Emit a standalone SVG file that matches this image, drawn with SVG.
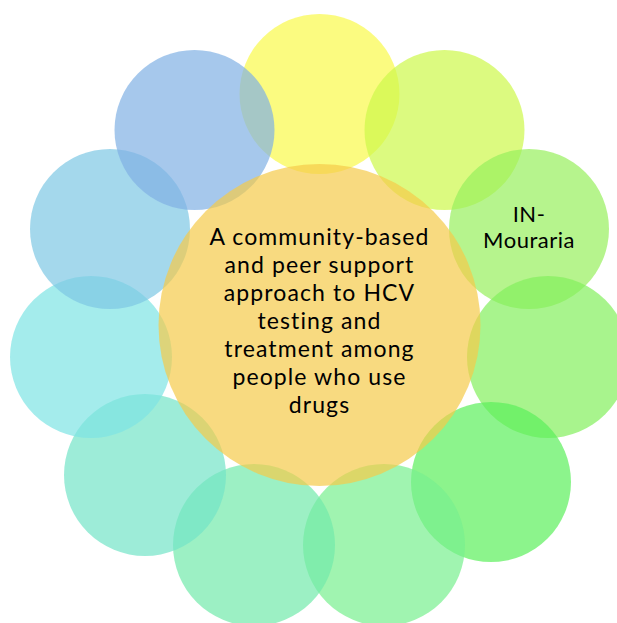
<svg xmlns="http://www.w3.org/2000/svg" width="617" height="623" viewBox="0 0 617 623">
<style>
.c{opacity:0.7}
.t{font-family:Lato,"Open Sans","Liberation Sans",sans-serif;font-size:22px;fill:#000;text-anchor:middle;letter-spacing:0.5px}
.m{font-size:23px;letter-spacing:1.1px}
</style>
<rect width="617" height="623" fill="#fff"/>
<g id="outer">
<g id="n-top"><circle class="c" cx="319.5" cy="94" r="80" fill="#fafa4a"/></g>
<g id="n-topright"><circle class="c" cx="444.5" cy="130" r="80" fill="#cdf84a"/></g>
<g id="n-inmouraria"><circle class="c" cx="529" cy="229" r="80" fill="#97ef5c"/>
<text class="t" x="529" y="222">IN-</text><text class="t" x="529" y="248">Mouraria</text></g>
<g id="n-right"><circle class="c" cx="548" cy="357" r="81" fill="#83ef5c"/></g>
<g id="n-bottomright"><circle class="c" cx="491" cy="482" r="80" fill="#5bef5b"/></g>
<g id="n-bottomcr"><circle class="c" cx="384" cy="545" r="81" fill="#78ef8e"/></g>
<g id="n-bottomcl"><circle class="c" cx="254" cy="545" r="81" fill="#72eaab"/></g>
<g id="n-bottomleft"><circle class="c" cx="145" cy="475" r="81" fill="#74e4c7"/></g>
<g id="n-left"><circle class="c" cx="91" cy="357" r="81" fill="#7de4e4"/></g>
<g id="n-leftupper"><circle class="c" cx="110" cy="229" r="80" fill="#7dc8e4"/></g>
<g id="n-topleft"><circle class="c" cx="194.5" cy="130" r="80" fill="#80b1e4"/></g>
</g>
<g id="n-center"><circle class="c" cx="319.5" cy="325" r="161" fill="#f5ca4a"/>
<text class="t m" x="319.5" y="245">A community-based</text>
<text class="t m" x="319.5" y="273">and peer support</text>
<text class="t m" x="319.5" y="301">approach to HCV</text>
<text class="t m" x="319.5" y="329">testing and</text>
<text class="t m" x="319.5" y="357">treatment among</text>
<text class="t m" x="319.5" y="385">people who use</text>
<text class="t m" x="319.5" y="413">drugs</text>
</g>
<g id="connectors"/>
</svg>
